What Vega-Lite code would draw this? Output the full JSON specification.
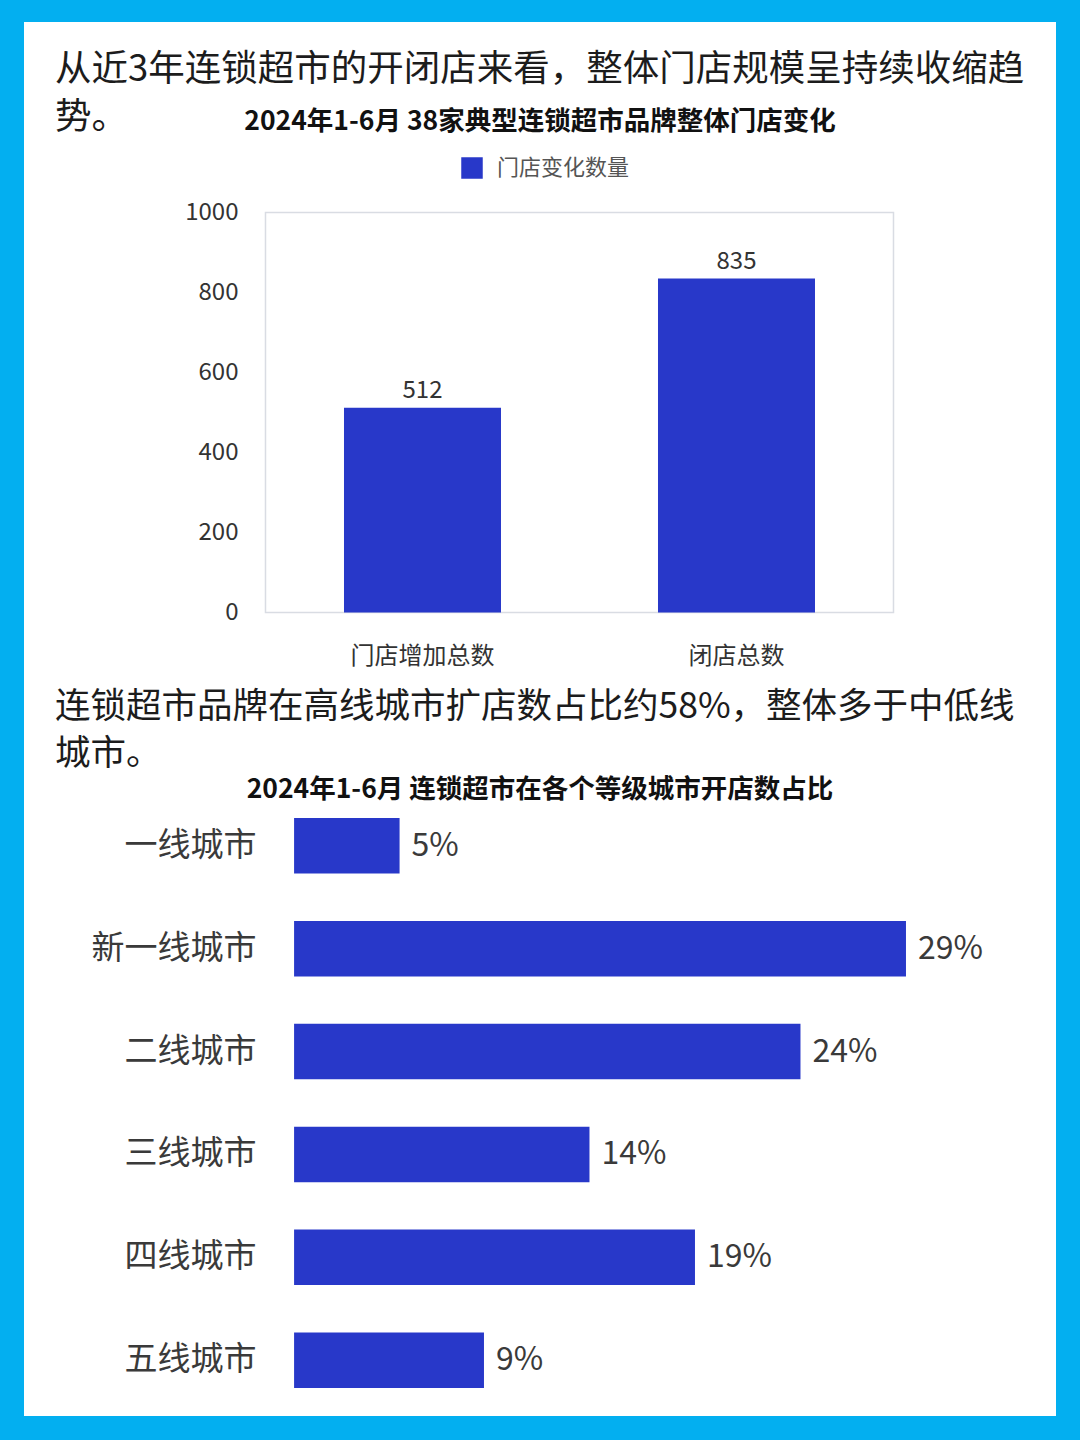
{
  "$schema": "https://vega.github.io/schema/vega-lite/v6.json",
  "background": "#03aff0",
  "padding": {"left": 24, "right": 24, "top": 22, "bottom": 24},
  "spacing": 0,
  "config": {
    "font": "Noto Sans CJK SC",
    "view": {"fill": "#ffffff", "stroke": null},
    "axis": {"grid": false, "domain": false, "ticks": false, "tickSize": 0, "title": null, "labelAngle": 0}
  },
  "vconcat": [
    {
      "title": {
        "text": ["从近3年连锁超市的开闭店来看，整体门店规模呈持续收缩趋", "势。"],
        "anchor": "start", "dx": 31, "offset": -114,
        "fontSize": 36.5, "fontWeight": "normal", "color": "#1c1c1c", "lineHeight": 48
      },
      "vconcat": [
        {
          "width": 1032,
          "height": 668,
          "title": {
            "text": "2024年1-6月 38家典型连锁超市品牌整体门店变化",
            "anchor": "middle", "offset": -113,
            "fontSize": 26.5, "fontWeight": "bold", "color": "#111111"
          },
          "layer": [
            {
              "data": {"values": [{"frame": "plot"}]},
              "mark": {"type": "rect", "filled": false, "stroke": "#d9dce3", "strokeWidth": 1.5},
              "encoding": {
                "x": {"datum": "门店增加总数", "type": "nominal", "bandPosition": -0.5},
                "x2": {"datum": "闭店总数", "bandPosition": 1.5},
                "y": {"datum": 0, "type": "quantitative"},
                "y2": {"datum": 1000}
              }
            },
            {
              "data": {"values": [
                {"类别": "门店增加总数", "门店数": 512, "系列": "门店变化数量"},
                {"类别": "闭店总数", "门店数": 835, "系列": "门店变化数量"}
              ]},
              "layer": [
                {
                  "mark": {"type": "bar"},
                  "encoding": {
                    "color": {
                      "field": "系列", "type": "nominal",
                      "scale": {"range": ["#2838c9"]},
                      "legend": {
                        "orient": "none", "legendX": 437, "legendY": 135, "title": null,
                        "symbolType": "square", "symbolSize": 462, "symbolStrokeWidth": 0,
                        "labelFontSize": 22, "labelColor": "#555555", "labelOffset": 14, "padding": 0
                      }
                    }
                  }
                },
                {
                  "mark": {"type": "text", "baseline": "bottom", "dy": -5, "fontSize": 24, "color": "#333333"},
                  "encoding": {"text": {"field": "门店数", "type": "quantitative"}}
                }
              ],
              "encoding": {
                "x": {
                  "field": "类别", "type": "nominal",
                  "scale": {"domain": ["门店增加总数", "闭店总数"], "paddingInner": 0.5, "paddingOuter": 0.8933, "align": 0.5704},
                  "axis": {"orient": "bottom", "offset": -77, "labelPadding": 31, "labelFontSize": 24, "labelColor": "#333333"}
                },
                "y": {
                  "field": "门店数", "type": "quantitative",
                  "scale": {"domain": [-193.75, 1476.25], "nice": false, "zero": false},
                  "axis": {"orient": "left", "offset": -241, "values": [0, 200, 400, 600, 800, 1000], "format": "d", "labelPadding": 27, "labelFontSize": 24, "labelColor": "#333333"}
                }
              }
            }
          ]
        }
      ]
    },
    {
      "title": {
        "text": ["连锁超市品牌在高线城市扩店数占比约58%，整体多于中低线", "城市。"],
        "anchor": "start", "dx": 31, "offset": -82,
        "fontSize": 35.5, "fontWeight": "normal", "color": "#1c1c1c", "lineHeight": 46.5
      },
      "vconcat": [
        {
          "width": 1032,
          "height": 726,
          "title": {
            "text": "2024年1-6月 连锁超市在各个等级城市开店数占比",
            "anchor": "middle", "offset": -113,
            "fontSize": 26.5, "fontWeight": "bold", "color": "#111111"
          },
          "data": {"values": [
            {"城市等级": "一线城市", "占比": 0.05},
            {"城市等级": "新一线城市", "占比": 0.29},
            {"城市等级": "二线城市", "占比": 0.24},
            {"城市等级": "三线城市", "占比": 0.14},
            {"城市等级": "四线城市", "占比": 0.19},
            {"城市等级": "五线城市", "占比": 0.09}
          ]},
          "encoding": {
            "y": {
              "field": "城市等级", "type": "nominal", "sort": null,
              "scale": {"paddingInner": 0.4606, "paddingOuter": 0.758, "align": 0.8205},
              "axis": {"orient": "left", "offset": -270, "labelPadding": 38, "labelFontSize": 33, "labelColor": "#3a3a3a", "labelLimit": 400}
            },
            "x": {
              "field": "占比", "type": "quantitative",
              "scale": {"domain": [-0.128, 0.3611], "nice": false, "zero": false},
              "axis": null
            }
          },
          "layer": [
            {"mark": {"type": "bar", "color": "#2838c9"}},
            {
              "mark": {"type": "text", "align": "left", "baseline": "middle", "dx": 12, "fontSize": 32, "color": "#3a3a3a"},
              "encoding": {"text": {"field": "占比", "type": "quantitative", "format": ".0%"}}
            }
          ]
        }
      ]
    }
  ]
}
